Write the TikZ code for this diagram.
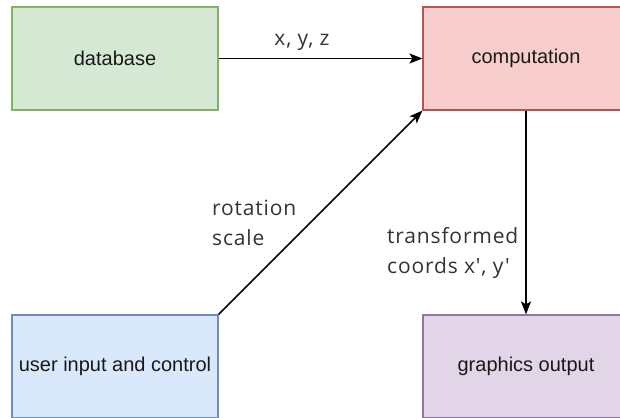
\documentclass[tikz,border=0pt]{standalone}
\usepackage{fontspec}
\setmainfont{Liberation Sans}
\newfontfamily\labelfont[LetterSpace=4]{Open Sans}
\usetikzlibrary{arrows.meta}
\definecolor{gfill}{HTML}{D5E8D4}\definecolor{gline}{HTML}{82B366}
\definecolor{rfill}{HTML}{F8CECC}\definecolor{rline}{HTML}{B85450}
\definecolor{bfill}{HTML}{DAE8FC}\definecolor{bline}{HTML}{6C8EBF}
\definecolor{pfill}{HTML}{E1D5E7}\definecolor{pline}{HTML}{9673A6}
\tikzset{
  box/.style={draw, line width=1.2pt, minimum width=206pt, minimum height=103pt, inner sep=1pt,
    font=\fontsize{20}{24}\selectfont, text=black!90},
  conn/.style={line width=1.6pt, -{Stealth[length=13pt,width=10pt,inset=3pt]}},
  lbl/.style={font=\labelfont\fontsize{21}{30}\selectfont, text=black!80, align=left, inner sep=0pt}
}
\begin{document}
\begin{tikzpicture}[x=1pt,y=-1pt]
\useasboundingbox (0,0) rectangle (620,417);
\clip (0,0) rectangle (620,417);
\node[box, fill=gfill, draw=gline] (db) at (115,58.5) {database};
\node[box, fill=rfill, draw=rline] (comp) at (526,58.5) {computation};
\node[box, fill=bfill, draw=bline] (user) at (115,366.5) {user input and control};
\node[box, fill=pfill, draw=pline] (gfx) at (526,366.5) {graphics output};
\draw[conn] (db.east) -- (comp.west);
\draw[conn] (user.north east) -- (comp.south west);
\draw[conn] (comp.south) -- (gfx.north);
\node[lbl] (xyz) at (302,42) {x, y, z};
\node[lbl, anchor=west] (rot) at (212,223) {rotation\\scale};
\node[lbl, anchor=west] (tr) at (387,253) {transformed\\coords x', y'};
\end{tikzpicture}
\end{document}
